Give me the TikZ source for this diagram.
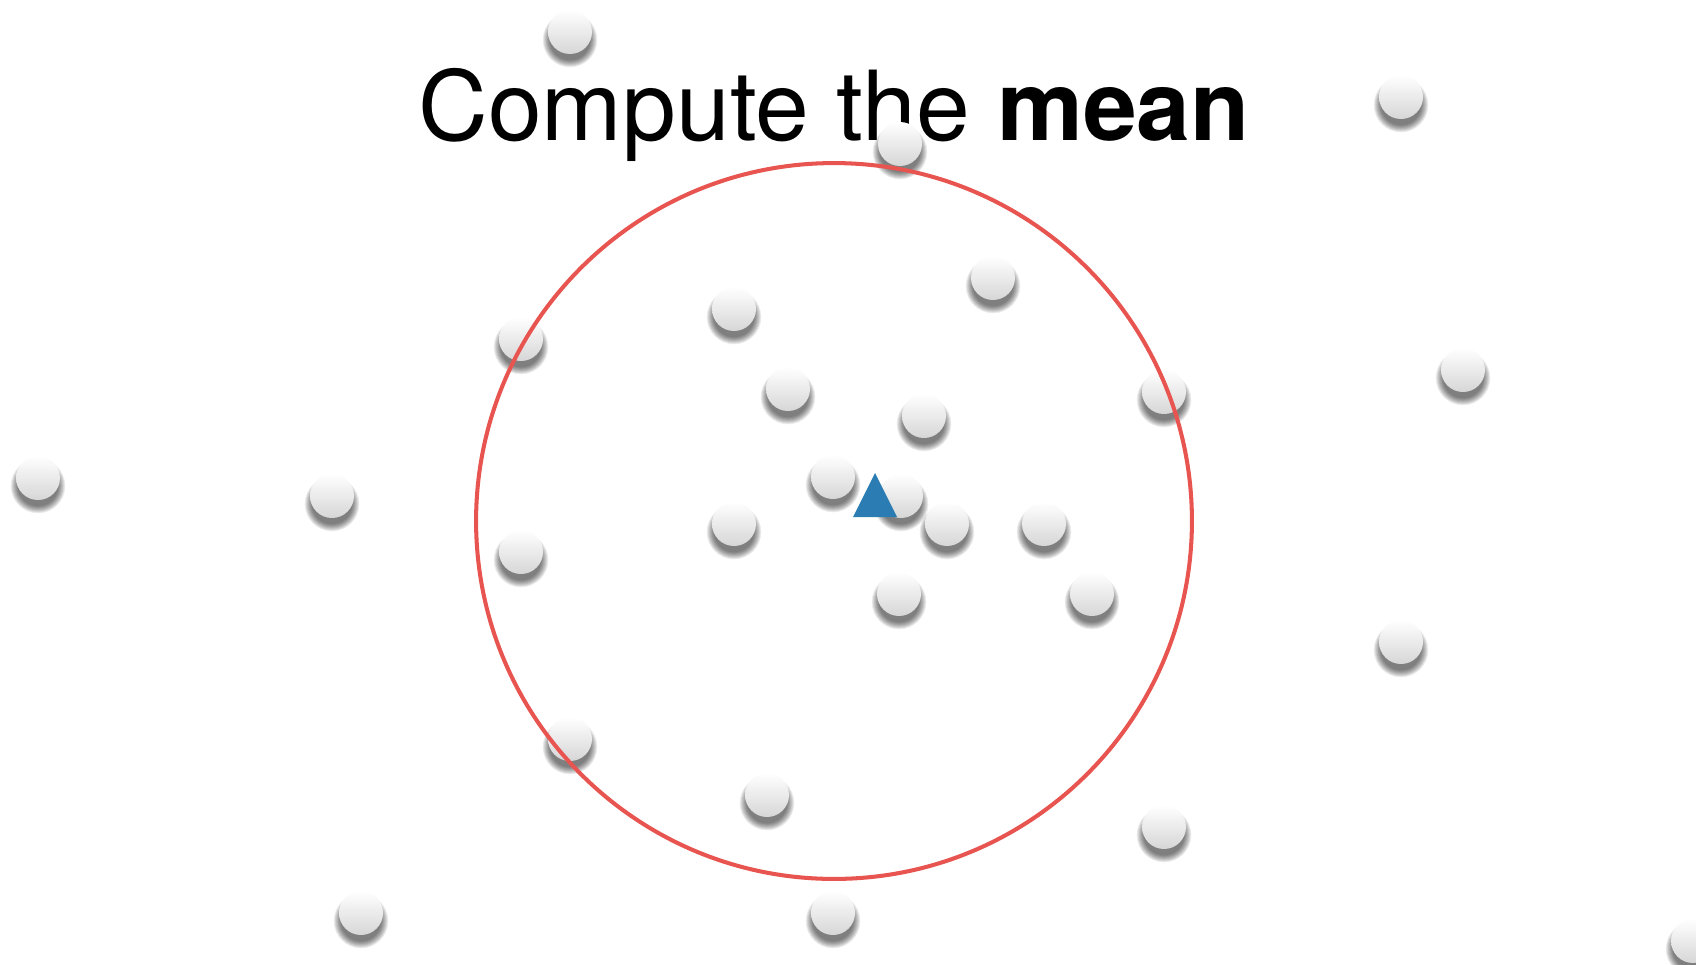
\documentclass[tikz,border=0pt]{standalone}
\usepackage{fontspec}
\setmainfont{TeX Gyre Heros}
\definecolor{ringred}{RGB}{232,84,80}
\definecolor{meanblue}{RGB}{44,124,180}
\begin{document}
\begin{tikzpicture}[
  x=0.02cm, y=-0.02cm,
  ball/.style={circle, minimum size=0.88cm, inner sep=0, top color=white, bottom color=black!16, draw=none},
  halo/.style={circle, fill=black, opacity=0.075, inner sep=0, draw=none},
  ring/.style={circle, draw=ringred, line width=2.3pt, minimum size=14.32cm, inner sep=0},
]
\clip (0,0) rectangle (1696,964);
\useasboundingbox (0,0) rectangle (1696,964);
\node[font=\fontsize{55}{60}\selectfont, anchor=base] (title) at (834,140) {Compute the \textbf{mean}};
% points with soft shadows
\foreach \x/\y [count=\i] in {570/32,1401/97,900/144,993/278,734/309,521/339,1463/370,
  788/389,1164/392,924/416,38/478,332/496,833/477,901/496,947/524,1044/524,734/524,
  521/552,899/594,1092/594,1401/642,570/739,767/795,1164/827,361/913,833/913,1693/941}{
  \foreach \r in {0.92,0.96,1.0,1.04,1.08,1.12,1.16,1.2,1.24}{
    \node[halo, minimum size=\r*0.88cm] at (\x,\y+8) {};
  }
  \node[ball] (p\i) at (\x,\y) {};
}
\node[ring] (region) at (834,521) {};
\coordinate (centroid) at (875,502);
\fill[meanblue] (centroid) ++(0,-29) -- ++(22,44) -- ++(-44,0) -- cycle;
\end{tikzpicture}
\end{document}
